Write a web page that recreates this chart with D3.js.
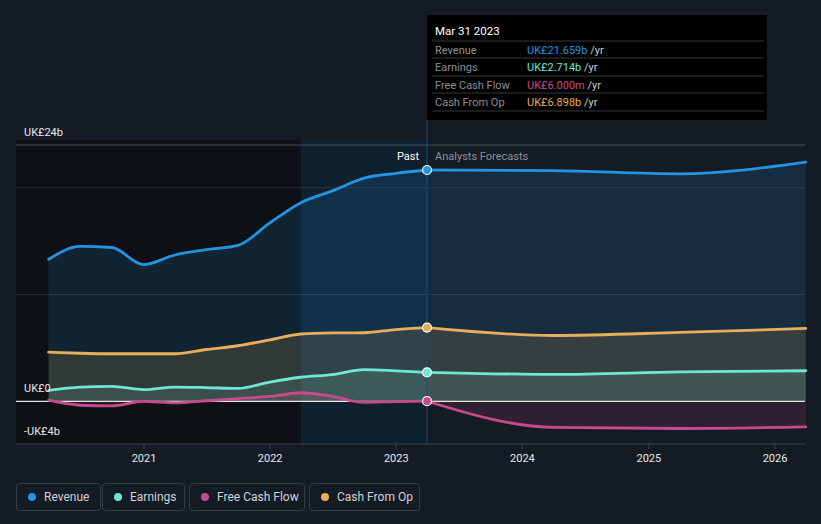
<!DOCTYPE html>
<html>
<head>
<meta charset="utf-8">
<script src="https://cdn.jsdelivr.net/npm/d3@7"></script>
<style>
  body { margin: 0; background: #151b24; }
  svg { display: block; font-family: Roboto, "Open Sans", sans-serif; }
</style>
</head>
<body>
<div id="chart"></div>
<script>
// quarterly past values (UK£ billions), Mar 2020 .. Mar 2023
const pastDates = ["2020-03-31", "2020-06-30", "2020-09-30", "2020-12-31", "2021-03-31", "2021-06-30",
    "2021-09-30", "2021-12-31", "2022-03-31", "2022-06-30", "2022-09-30", "2022-12-31", "2023-03-31"];
const revenuePast = [13.3, 14.5, 14.4, 12.8, 13.7, 14.2, 14.6, 16.7, 18.6, 19.7, 20.9, 21.35, 21.659];
const earningsPast = [1.03, 1.33, 1.4, 1.1, 1.33, 1.28, 1.2, 1.8, 2.25, 2.5, 2.96, 2.85, 2.714];
const fcfPast = [0.1, -0.37, -0.43, 0.0, -0.15, 0.05, 0.25, 0.45, 0.8, 0.45, -0.1, -0.03, 0.006];
const cfoPast = [4.6, 4.5, 4.45, 4.45, 4.45, 4.85, 5.2, 5.75, 6.3, 6.4, 6.42, 6.72, 6.898];

// analyst forecasts, yearly
const forecastDates = ["2023-03-31", "2024-03-31", "2025-03-31", "2026-03-31"];
const revenueFc = [21.659, 21.6, 21.3, 22.4];
const earningsFc = [2.714, 2.52, 2.75, 2.86];
const fcfFc = [0.006, -2.45, -2.55, -2.4];
const cfoFc = [6.898, 6.16, 6.45, 6.82];

const seriesNames = ["Revenue", "Earnings", "Free Cash Flow", "Cash From Op"];
const seriesColors = ["#2394df", "#6ee7d3", "#c94a8c", "#e8ae5a"];
const tooltipValues = ["UK£21.659b", "UK£2.714b", "UK£6.000m", "UK£6.898b"];
const yTicks = [24, 0, -4];
const yLabels = ["UK£24b", "UK£0", "-UK£4b"];
const gridValues = [20, 10];
const xTicks = [2021, 2022, 2023, 2024, 2025, 2026];

const width = 821;
const height = 524;
const parse = d3.timeParse("%Y-%m-%d");

const x = d3.scaleTime()
    .domain([new Date(2021, 0, 1), new Date(2026, 0, 1)])
    .range([144, 775]);
const y = d3.scaleLinear()
    .domain([-4, 24])
    .range([444, 145]);

const plotLeft = 16, plotRight = 805;
const nowDate = parse("2023-03-31");
const bandStart = parse("2022-03-31");
const shadeTop = 140;

const svg = d3.select("#chart").append("svg")
    .attr("width", width)
    .attr("height", height);

// darker past region + last-year highlight band
svg.append("rect")
    .attr("x", plotLeft).attr("y", shadeTop)
    .attr("width", x(nowDate) - plotLeft).attr("height", y(-4) - shadeTop)
    .attr("fill", "#000").attr("opacity", 0.37);
svg.append("rect")
    .attr("x", x(bandStart)).attr("y", shadeTop)
    .attr("width", x(nowDate) - x(bandStart)).attr("height", y(-4) - shadeTop)
    .attr("fill", "#2394df").attr("opacity", 0.12);

// gridlines
svg.selectAll(".grid")
    .data(gridValues)
    .join("line")
    .attr("x1", plotLeft).attr("x2", plotRight)
    .attr("y1", d => y(d)).attr("y2", d => y(d))
    .attr("stroke", "#ffffff")
    .attr("stroke-opacity", 0.1)
    .attr("stroke-width", 1);
svg.append("line")
    .attr("x1", plotLeft).attr("x2", plotRight)
    .attr("y1", y(24)).attr("y2", y(24))
    .attr("stroke", "#4a505a");

const past = [revenuePast, earningsPast, fcfPast, cfoPast];
const fc = [revenueFc, earningsFc, fcfFc, cfoFc];

const series = seriesNames.map((name, i) => {
    const p = pastDates.map((d, j) => ({ date: parse(d), value: past[i][j] }));
    const f = forecastDates.map((d, j) => ({ date: parse(d), value: fc[i][j] }));
    return { name: name, color: seriesColors[i], past: p, fc: f };
});

const line = d3.line()
    .x(d => x(d.date))
    .y(d => y(d.value))
    .curve(d3.curveMonotoneX);
const area = d3.area()
    .x(d => x(d.date))
    .y0(y(0))
    .y1(d => y(d.value))
    .curve(d3.curveMonotoneX);

// areas first so lines sit on top
series.forEach(s => {
    [s.past, s.fc].forEach(pts => {
        svg.append("path")
            .attr("d", area(pts))
            .attr("fill", s.color)
            .attr("opacity", 0.15);
    });
});

// zero line
svg.append("line")
    .attr("x1", plotLeft).attr("x2", plotRight)
    .attr("y1", y(0)).attr("y2", y(0))
    .attr("stroke", "#e6e6e6")
    .attr("stroke-width", 1.2);

series.forEach(s => {
    [s.past, s.fc].forEach(pts => {
        svg.append("path")
            .attr("d", line(pts))
            .attr("fill", "none")
            .attr("stroke", s.color)
            .attr("stroke-width", 2.8)
            .attr("stroke-linecap", "round");
    });
});

// x axis
svg.append("line")
    .attr("x1", plotLeft).attr("x2", plotRight)
    .attr("y1", y(-4)).attr("y2", y(-4))
    .attr("stroke", "#3a414c");
const xt = svg.selectAll(".xtick")
    .data(xTicks)
    .join("g")
    .attr("transform", d => `translate(${x(new Date(d, 0, 1))},${y(-4)})`);
xt.append("line").attr("y2", 5).attr("stroke", "#3a414c");
xt.append("text")
    .attr("y", 18)
    .attr("text-anchor", "middle")
    .attr("fill", "#e8e8e8")
    .attr("font-size", 11)
    .text(d => d);

// y labels
svg.selectAll(".ylab")
    .data(yTicks)
    .join("text")
    .attr("x", 24)
    .attr("y", d => y(d) - 9)
    .attr("fill", "#e8e8e8")
    .attr("font-size", 11)
    .text((d, i) => yLabels[i]);

// now marker
svg.append("line")
    .attr("x1", x(nowDate)).attr("x2", x(nowDate))
    .attr("y1", 120).attr("y2", y(-4))
    .attr("stroke", "#1f4d72")
    .attr("stroke-width", 1);

svg.append("text")
    .attr("x", x(nowDate) - 8).attr("y", 160)
    .attr("text-anchor", "end")
    .attr("fill", "#ffffff")
    .attr("font-size", 11)
    .text("Past");
svg.append("text")
    .attr("x", x(nowDate) + 8).attr("y", 160)
    .attr("fill", "#8c9096")
    .attr("font-size", 11)
    .text("Analysts Forecasts");

series.forEach(s => {
    const last = s.past[s.past.length - 1];
    svg.append("circle")
        .attr("cx", x(last.date)).attr("cy", y(last.value))
        .attr("r", 4.5)
        .attr("fill", s.color)
        .attr("stroke", "#ffffff")
        .attr("stroke-width", 1.2);
});

// tooltip
const tip = svg.append("g").attr("transform", `translate(${x(nowDate)},15)`);
tip.append("rect")
    .attr("width", 340).attr("height", 105)
    .attr("fill", "#000");
tip.append("text")
    .attr("x", 8).attr("y", 20)
    .attr("fill", "#ffffff")
    .attr("font-size", 11.5)
    .text("Mar 31 2023");
const rowY = [26, 43, 61, 78, 96];
tip.selectAll(".sep")
    .data(rowY)
    .join("line")
    .attr("x1", 5).attr("x2", 337)
    .attr("y1", d => d).attr("y2", d => d)
    .attr("stroke", "#33363b");
seriesNames.forEach((name, i) => {
    const ty = rowY[i] + 12.5;
    tip.append("text")
        .attr("x", 8).attr("y", ty)
        .attr("fill", "#8c9096")
        .attr("font-size", 11)
        .text(name);
    const t = tip.append("text")
        .attr("x", 100).attr("y", ty)
        .attr("font-size", 11);
    t.append("tspan").attr("fill", seriesColors[i]).text(tooltipValues[i]);
    t.append("tspan").attr("fill", "#cfcfcf").text(" /yr");
});

// legend
const legendX = [16, 102, 189, 309];
const legendW = [84, 82, 115, 110];
const leg = svg.selectAll(".leg")
    .data(seriesNames)
    .join("g")
    .attr("transform", (d, i) => `translate(${legendX[i]},483)`);
leg.append("rect")
    .attr("x", 0.5).attr("y", 0.5)
    .attr("width", (d, i) => legendW[i]).attr("height", 27)
    .attr("rx", 3)
    .attr("fill", "none")
    .attr("stroke", "#363d49");
leg.append("circle")
    .attr("cx", 16).attr("cy", 14)
    .attr("r", 4)
    .attr("fill", (d, i) => seriesColors[i]);
leg.append("text")
    .attr("x", 28).attr("y", 18)
    .attr("fill", "#cfd2d6")
    .attr("font-size", 12)
    .text(d => d);
</script>
</body>
</html>
